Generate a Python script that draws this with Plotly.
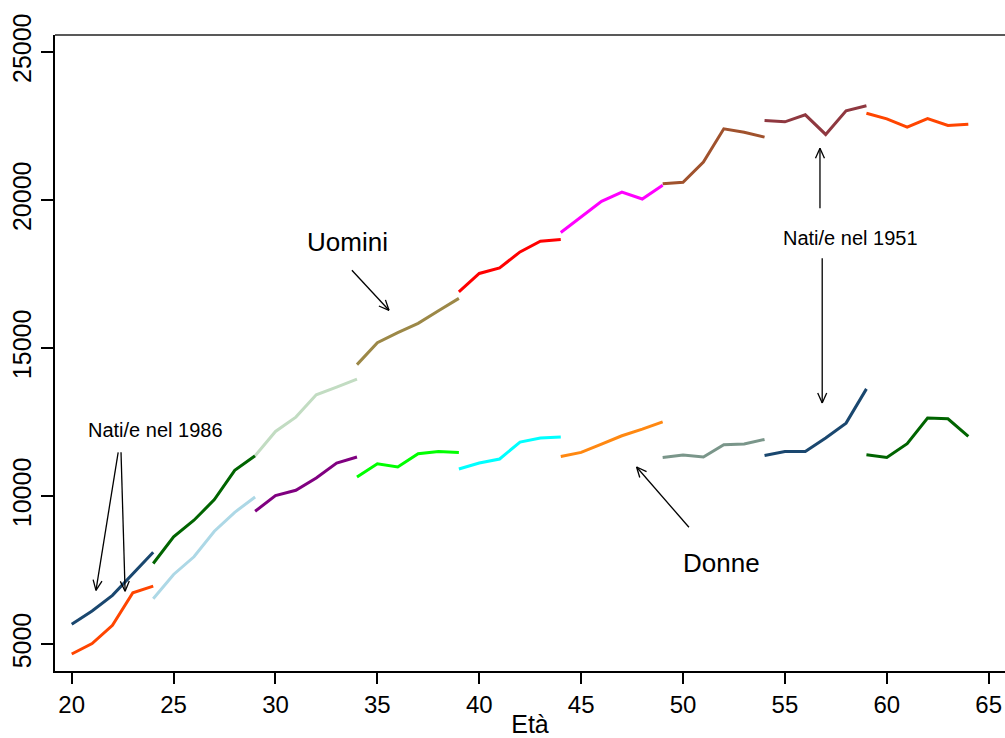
import math
import plotly.graph_objects as go

# Età per ciascun tratto di coorte
ages_20_24 = [20, 21, 22, 23, 24]
ages_24_29 = [24, 25, 26, 27, 28, 29]
ages_29_34 = [29, 30, 31, 32, 33, 34]
ages_34_39 = [34, 35, 36, 37, 38, 39]
ages_39_44 = [39, 40, 41, 42, 43, 44]
ages_44_49 = [44, 45, 46, 47, 48, 49]
ages_49_54 = [49, 50, 51, 52, 53, 54]
ages_54_59 = [54, 55, 56, 57, 58, 59]
ages_59_64 = [59, 60, 61, 62, 63, 64]

# Uomini
uomini_20_24 = [5674, 6122, 6651, 7375, 8110]
uomini_24_29 = [7729, 8628, 9188, 9885, 10872, 11367]
uomini_29_34 = [11367, 12186, 12671, 13423, 13682, 13951]
uomini_34_39 = [14444, 15185, 15522, 15838, 16263, 16680]
uomini_39_44 = [16903, 17523, 17711, 18250, 18611, 18668]
uomini_44_49 = [18904, 19430, 19958, 20272, 20036, 20497]
uomini_49_54 = [20554, 20598, 21283, 22407, 22293, 22125]
uomini_54_59 = [22687, 22643, 22879, 22216, 23013, 23183]
uomini_59_64 = [22934, 22744, 22463, 22754, 22519, 22563]

# Donne
donne_20_24 = [4673, 5023, 5640, 6742, 6965]
donne_24_29 = [6540, 7358, 7954, 8817, 9457, 9976]
donne_29_34 = [9491, 10020, 10199, 10616, 11121, 11323]
donne_34_39 = [10650, 11098, 10986, 11435, 11513, 11480]
donne_39_44 = [10919, 11121, 11256, 11829, 11964, 11998]
donne_44_49 = [11344, 11480, 11762, 12041, 12266, 12513]
donne_49_54 = [11311, 11391, 11323, 11738, 11762, 11917]
donne_54_59 = [11378, 11513, 11513, 11964, 12469, 13625]
donne_59_64 = [11401, 11311, 11772, 12637, 12614, 12018]

x_ticks = [20, 25, 30, 35, 40, 45, 50, 55, 60, 65]
y_ticks = [5000, 10000, 15000, 20000, 25000]
y_tick_text = ["5000", "10000", "15000", "20000", "25000"]

men = [
    (ages_20_24, uomini_20_24, "#1a476f"),
    (ages_24_29, uomini_24_29, "#006400"),
    (ages_29_34, uomini_29_34, "#c2dcc2"),
    (ages_34_39, uomini_34_39, "#9c8847"),
    (ages_39_44, uomini_39_44, "#ff0000"),
    (ages_44_49, uomini_44_49, "#ff00ff"),
    (ages_49_54, uomini_49_54, "#a0522d"),
    (ages_54_59, uomini_54_59, "#8f3840"),
    (ages_59_64, uomini_59_64, "#ff4500"),
]
women = [
    (ages_20_24, donne_20_24, "#ff4500"),
    (ages_24_29, donne_24_29, "#add8e6"),
    (ages_29_34, donne_29_34, "#800080"),
    (ages_34_39, donne_34_39, "#00ff00"),
    (ages_39_44, donne_39_44, "#00ffff"),
    (ages_44_49, donne_44_49, "#ff8811"),
    (ages_49_54, donne_49_54, "#7a968a"),
    (ages_54_59, donne_54_59, "#1a476f"),
    (ages_59_64, donne_59_64, "#006400"),
]

W, H = 1005, 738
M = dict(l=55, r=0, t=35, b=67)
X_RANGE = [19.18, 65.8]
Y_RANGE = [4098, 25574]
PW = W - M["l"] - M["r"]
PH = H - M["t"] - M["b"]
FONT = "Liberation Sans, Arial, sans-serif"

fig = go.Figure()
for xs, ys, col in men + women:
    fig.add_trace(go.Scatter(x=xs, y=ys, mode="lines",
                             line=dict(color=col, width=3),
                             showlegend=False, hoverinfo="skip"))


def to_px(x, y):
    px = (x - X_RANGE[0]) / (X_RANGE[1] - X_RANGE[0]) * PW
    py = (y - Y_RANGE[0]) / (Y_RANGE[1] - Y_RANGE[0]) * PH
    return px, py


def to_data(px, py):
    x = X_RANGE[0] + px / PW * (X_RANGE[1] - X_RANGE[0])
    y = Y_RANGE[0] + py / PH * (Y_RANGE[1] - Y_RANGE[0])
    return x, y


def arrow(x0, y0, x1, y1, head=11, spread=0.42):
    """Shaft from (x0, y0) to (x1, y1) with an open V head at the end."""
    fig.add_shape(type="line", x0=x0, y0=y0, x1=x1, y1=y1, xref="x", yref="y",
                  line=dict(color="black", width=1.3))
    p0 = to_px(x0, y0)
    p1 = to_px(x1, y1)
    ang = math.atan2(p0[1] - p1[1], p0[0] - p1[0])
    for s in (-spread, spread):
        wx = p1[0] + head * math.cos(ang + s)
        wy = p1[1] + head * math.sin(ang + s)
        dx, dy = to_data(wx, wy)
        fig.add_shape(type="line", x0=x1, y0=y1, x1=dx, y1=dy, xref="x", yref="y",
                      line=dict(color="black", width=1.3))


arrow(33.75, 17629, 35.57, 16278)          # Uomini
arrow(22.28, 11483, 21.19, 6823)           # 1986, prima freccia
arrow(22.42, 11483, 22.62, 6790)           # 1986, seconda freccia
arrow(56.72, 19722, 56.72, 21748)          # 1951 verso gli uomini
arrow(56.83, 18034, 56.83, 13148)          # 1951 verso le donne
arrow(50.29, 8951, 47.72, 10987)           # Donne

labels = [
    (33.51, 18574, "Uomini", 26),
    (51.91, 7735, "Donne", 26),
    (24.10, 12226, "Nati/e nel 1986", 20),
    (58.20, 18709, "Nati/e nel 1951", 20),
]
for x, y, txt, size in labels:
    fig.add_annotation(x=x, y=y, text=txt, showarrow=False, xref="x", yref="y",
                       font=dict(family=FONT, size=size, color="black"))

# linea superiore del riquadro
fig.add_shape(type="line", xref="paper", yref="paper", x0=0, x1=1, y0=1, y1=1,
              line=dict(color="#595959", width=2))

fig.update_layout(
    width=W, height=H, margin=M,
    paper_bgcolor="white", plot_bgcolor="white",
    font=dict(family=FONT, color="black"),
    xaxis=dict(range=X_RANGE, tickvals=x_ticks, ticks="outside", ticklen=11,
               tickwidth=1.5, tickcolor="black", showgrid=False, zeroline=False,
               showline=True, linecolor="black", linewidth=2,
               tickfont=dict(size=24, family=FONT),
               title=dict(text="Età", font=dict(size=25, family=FONT), standoff=0),
               automargin=False),
    yaxis=dict(range=Y_RANGE, tickvals=y_ticks, ticktext=y_tick_text,
               ticks="outside", ticklen=12,
               tickwidth=1.5, tickcolor="black", showgrid=False, zeroline=False,
               showline=True, linecolor="black", linewidth=2, tickangle=-90,
               tickfont=dict(size=25, family=FONT), automargin=False),
)

fig.write_html("out.html")
